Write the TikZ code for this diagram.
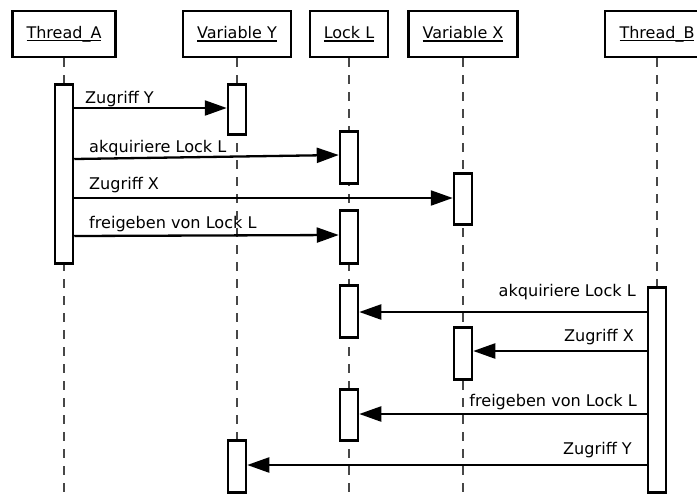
\documentclass[tikz,border=0pt]{standalone}
\usepackage{fontspec}
\setmainfont{DejaVu Sans}
\usetikzlibrary{arrows.meta}
\newcommand\hdrtext[1]{\setbox0\hbox{#1}\rlap{\rule[-3pt]{\wd0}{1.2pt}}\box0}
\tikzset{
  hdr/.style={draw, line width=2.8pt, fill=white, minimum height=46pt, inner sep=0pt,
              font=\fontsize{16}{19}\selectfont},
  life/.style={draw=black!72, line width=1.4pt, dash pattern=on 9pt off 8pt},
  act/.style={draw, line width=2.5pt, fill=white, minimum width=18pt, inner sep=0pt, anchor=north},
  msg/.style={line width=2.3pt, -{Triangle[length=22pt, width=15pt]}},
  lbl/.style={inner sep=0pt, font=\fontsize{16.1}{19}\selectfont},
}
\begin{document}
\begin{tikzpicture}[x=1pt, y=-1pt]
\useasboundingbox (0,0) rectangle (697,496);
\clip (0,0) rectangle (697,496);

% participants
\node[hdr, minimum width=103pt] (ta) at (64,34)    {\hdrtext{Thread\_A}};
\node[hdr, minimum width=108pt] (vy) at (237,34)   {\hdrtext{Variable Y}};
\node[hdr, minimum width=78pt]  (ll) at (349,34)   {\hdrtext{Lock L}};
\node[hdr, minimum width=109pt] (vx) at (463,34)   {\hdrtext{Variable X}};
\node[hdr, minimum width=104pt] (tb) at (657,34)   {\hdrtext{Thread\_B}};

% lifelines
\foreach \p in {ta,vy,ll,vx,tb}
  \draw[life] (\p.south) -- (\p.south |- 0,496);

% activations
\node[act, minimum height=179pt] (aA)  at (64,83)   {};
\node[act, minimum height=50pt]  (aY1) at (237,83)  {};
\node[act, minimum height=52pt]  (aL1) at (349,130) {};
\node[act, minimum height=51pt]  (aX1) at (463,172) {};
\node[act, minimum height=53pt]  (aL2) at (349,209) {};
\node[act, minimum height=205pt] (aB)  at (657,286) {};
\node[act, minimum height=52pt]  (aL3) at (349,284) {};
\node[act, minimum height=52pt]  (aX2) at (463,326) {};
\node[act, minimum height=51pt]  (aL4) at (349,388) {};
\node[act, minimum height=52pt]  (aY2) at (237,439) {};

% messages of Thread_A
\draw[msg] (aA.east |- 0,108) -- (aY1.west |- 0,108);
\node[lbl, anchor=base west] (m1) at (85,103) {Zugriff Y};
\draw[msg] (aA.east |- 0,159) -- (aL1.west |- 0,155);
\node[lbl, anchor=base west] (m2) at (89,152.5) {akquiriere Lock L};
\draw[msg] (aA.east |- 0,198) -- (aX1.west |- 0,198);
\node[lbl, anchor=base west] (m3) at (89,189) {Zugriff X};
\draw[msg] (aA.east |- 0,236) -- (aL2.west |- 0,235);
\node[lbl, anchor=base west] (m4) at (89,228) {freigeben von Lock L};

% messages of Thread_B
\draw[msg] (aB.west |- 0,312) -- (aL3.east |- 0,312);
\node[lbl, anchor=base east] (m5) at (636,296) {akquiriere Lock L};
\draw[msg] (aB.west |- 0,351) -- (aX2.east |- 0,351);
\node[lbl, anchor=base east] (m6) at (634,341) {Zugriff X};
\draw[msg] (aB.west |- 0,414) -- (aL4.east |- 0,414);
\node[lbl, anchor=base east] (m7) at (637,406) {freigeben von Lock L};
\draw[msg] (aB.west |- 0,465) -- (aY2.east |- 0,465);
\node[lbl, anchor=base east] (m8) at (632,454) {Zugriff Y};
\end{tikzpicture}
\end{document}
